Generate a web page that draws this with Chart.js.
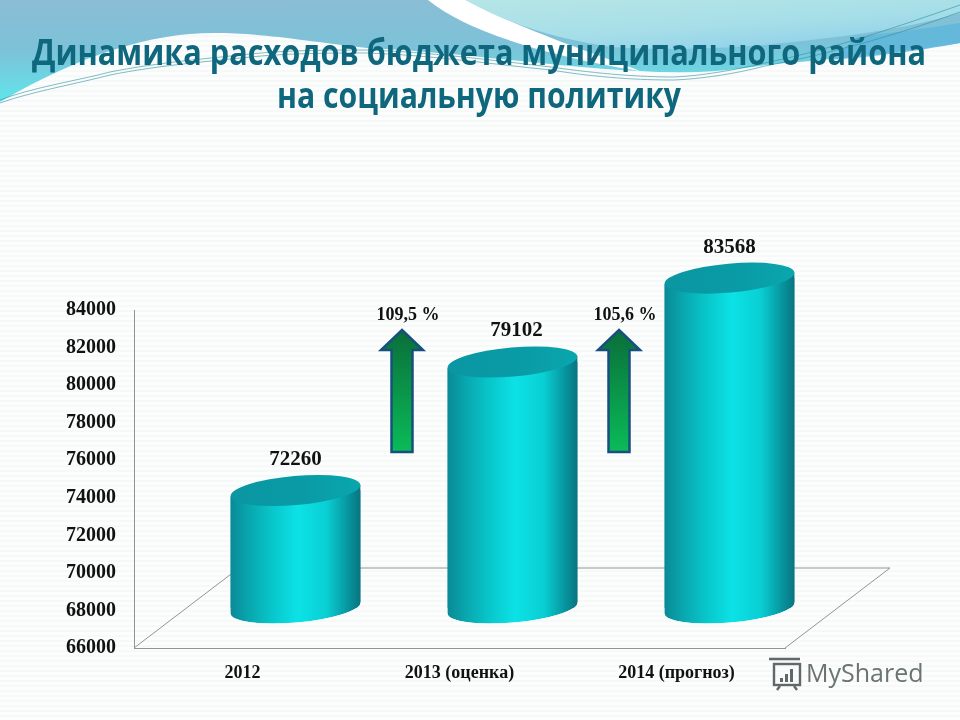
<!DOCTYPE html>
<html lang="ru">
<head>
<meta charset="utf-8">
<title>Динамика расходов бюджета</title>
<script src="https://cdn.jsdelivr.net/npm/chart.js@4/dist/chart.umd.min.js"></script>
<style>
html,body{margin:0;padding:0;width:960px;height:720px;overflow:hidden;background:#fbfcfc}
#stage{position:relative;width:960px;height:720px;
  background:repeating-linear-gradient(0deg,#fcfdfd 0,#fcfdfd 3px,#f7f9f9 3px,#f7f9f9 5px)}
#bg,#c{position:absolute;left:0;top:0}
</style>
</head>
<body>
<div id="stage">
<svg id="bg" width="960" height="720" viewBox="0 0 960 720">
  <defs>
    <linearGradient id="sky" x1="0" y1="0" x2="0.1" y2="1">
      <stop offset="0" stop-color="#8bbdd5"/>
      <stop offset="0.5" stop-color="#7cc2d8"/>
      <stop offset="1" stop-color="#60e6ec"/>
    </linearGradient>
    <linearGradient id="light" x1="0" y1="0" x2="0.7" y2="1">
      <stop offset="0" stop-color="#b6e6e6"/>
      <stop offset="0.6" stop-color="#a6dee8"/>
      <stop offset="1" stop-color="#8ed0ea"/>
    </linearGradient>
  </defs>
  <path fill="url(#sky)" d="M0 0H960V43C880 55 820 60 765 65C720 72 680 74 640 71C560 68 460 52 367 48C300 40 260 33 214 33C150 33 80 55 0 102Z"/>
  <path fill="#ffffff" d="M428 0C465 30 540 55 640 71C600 55 520 30 468 0Z"/>
  <path fill="url(#light)" d="M465 0H960V13C900 30 850 36 765 45C700 50 650 50 612 47C560 40 510 25 465 0Z"/>
  <path fill="#5fb6da" d="M857 37C890 33 930 28 960 23V43C910 52 880 56 830 60Z" opacity="0.85"/>
  <g fill="none" stroke="#2f8f9e" stroke-width="0.8" opacity="0.75">
    <path d="M0 100C30 88 80 80 110 72C160 62 214 58 250 54C290 50 330 50 367 50C430 52 490 60 551 67C600 74 640 77 674 77C700 76 735 70 765 63C830 50 900 26 960 5"/>
    <path d="M0 103C30 92 80 83 110 75C160 65 214 61 250 57C290 53 330 53 367 53C430 55 490 64 551 70C600 78 640 80 674 80C700 79 735 74 765 66C830 54 900 34 960 12"/>
  </g>
</svg>
<canvas id="c" width="960" height="720"></canvas>
</div>
<script>
const categories = ['2012', '2013 (оценка)', '2014 (прогноз)'];
const expenses = [72260, 79102, 83568];
const yTickValues = [66000, 68000, 70000, 72000, 74000, 76000, 78000, 80000, 82000, 84000];
const growthLabels = ['109,5 %', '105,6 %'];
const titleLines = ['Динамика расходов бюджета муниципального района', 'на социальную политику'];

const DX = 53, DY = -40, DEPTH_X = 105, DEPTH_Y = -80;
const TILT = 5 * Math.PI / 180, RY = 14.5;
const SERIF = '"Liberation Serif", serif';
const GRID = '#8f9496';

function bodyGradient(c, left, right) {
  const g = c.createLinearGradient(left, 0, right, 0);
  g.addColorStop(0, '#0a8a96');
  g.addColorStop(0.14, '#09a6ae');
  g.addColorStop(0.32, '#08c6ca');
  g.addColorStop(0.52, '#0ce2e6');
  g.addColorStop(0.74, '#09cfd3');
  g.addColorStop(0.92, '#078f9a');
  g.addColorStop(1, '#0a7480');
  return g;
}

function shape(c, el) {
  const half = el.width / 2, rise = half * Math.tan(TILT);
  c.moveTo(el.x - half, el.y + rise);
  c.lineTo(el.x + half, el.y - rise);
  c.lineTo(el.x + half, el.base - rise);
  c.lineTo(el.x - half, el.base + rise);
  c.closePath();
  c.moveTo(el.x + half, el.base);
  c.ellipse(el.x, el.base, half, RY, -TILT, 0, Math.PI * 2);
}

const scene = {
  id: 'scene',
  beforeDatasetsDraw(chart) {
    const c = chart.ctx, a = chart.chartArea;
    c.save();
    c.strokeStyle = GRID;
    c.lineWidth = 1;
    c.beginPath();
    c.moveTo(a.left, a.bottom);
    c.lineTo(a.left + DEPTH_X, a.bottom + DEPTH_Y);
    c.lineTo(a.right + DEPTH_X, a.bottom + DEPTH_Y);
    c.lineTo(a.right, a.bottom);
    c.stroke();
    c.restore();

    const bars = chart.getDatasetMeta(0).data;
    c.save();
    c.translate(DX, DY);
    c.beginPath();
    bars.forEach(el => shape(c, el));
    c.clip();
    bars.forEach(el => {
      c.beginPath();
      shape(c, el);
      c.fillStyle = bodyGradient(c, el.x - el.width / 2, el.x + el.width / 2);
      c.fill();
    });
  },
  afterDatasetsDraw(chart) {
    const c = chart.ctx;
    c.restore();
    const bars = chart.getDatasetMeta(0).data;
    const nudge = [0, 4, 0];
    bars.forEach((el, i) => {
      const half = el.width / 2, cx = el.x + DX, cy = el.y + DY;
      c.save();
      c.beginPath();
      c.ellipse(cx, cy, half, RY, -TILT, 0, Math.PI * 2);
      const g = c.createLinearGradient(cx - half, 0, cx + half, 0);
      g.addColorStop(0, '#0a96a2');
      g.addColorStop(0.6, '#099ca6');
      g.addColorStop(1, '#0aa6ae');
      c.fillStyle = g;
      c.fill();
      c.fillStyle = '#111';
      c.font = 'bold 21px ' + SERIF;
      c.textAlign = 'center';
      c.textBaseline = 'middle';
      c.fillText(String(expenses[i]), cx + nudge[i], cy - 31);
      c.restore();
    });

    const y = chart.scales.y, x = chart.scales.x;
    growthLabels.forEach((label, i) => {
      const mid = (x.getPixelForValue(i) + x.getPixelForValue(i + 1)) / 2 + 51;
      const top = y.getPixelForValue(82935), bottom = y.getPixelForValue(76440);
      const neck = top + 20, hw = 21, sw = 10.5;
      c.save();
      const g = c.createLinearGradient(0, top, 0, bottom);
      g.addColorStop(0, '#0a6e3a');
      g.addColorStop(1, '#0abb58');
      c.beginPath();
      c.moveTo(mid, top);
      c.lineTo(mid + hw, neck);
      c.lineTo(mid + sw, neck);
      c.lineTo(mid + sw, bottom);
      c.lineTo(mid - sw, bottom);
      c.lineTo(mid - sw, neck);
      c.lineTo(mid - hw, neck);
      c.closePath();
      c.fillStyle = g;
      c.fill();
      c.strokeStyle = '#17507e';
      c.lineWidth = 2.5;
      c.lineJoin = 'miter';
      c.stroke();
      c.fillStyle = '#111';
      c.font = 'bold 18px ' + SERIF;
      c.textAlign = 'center';
      c.textBaseline = 'middle';
      c.fillText(label, mid + 6, top - 15);
      c.restore();
    });

    // title
    c.save();
    c.fillStyle = '#0e677d';
    c.font = 'bold 36px "Open Sans", sans-serif';
    c.textAlign = 'center';
    c.textBaseline = 'middle';
    c.fillText(titleLines[0], 479, 55, 894);
    c.fillText(titleLines[1], 479, 98, 404);
    c.restore();

    // watermark
    c.save();
    c.strokeStyle = '#5f6a68';
    c.fillStyle = '#5f6a68';
    c.lineWidth = 2.4;
    c.strokeRect(774, 664, 26, 21);
    c.beginPath();
    c.moveTo(769, 659); c.lineTo(800, 659);
    c.moveTo(780, 686); c.lineTo(777, 690);
    c.moveTo(794, 686); c.lineTo(797, 690);
    c.stroke();
    c.fillRect(780, 678, 3, 4);
    c.fillRect(785, 674, 3, 8);
    c.fillRect(790, 669, 3, 13);
    c.fillStyle = '#6a7472';
    c.font = '25px "Open Sans", sans-serif';
    c.textAlign = 'left';
    c.textBaseline = 'middle';
    c.fillText('MyShared', 806, 675);
    c.restore();
  }
};

new Chart(document.getElementById('c'), {
  type: 'bar',
  plugins: [scene],
  data: {
    labels: categories,
    datasets: [{
      data: expenses,
      base: 66000,
      clip: false,
      borderWidth: 0,
      barPercentage: 0.6,
      categoryPercentage: 1,
      backgroundColor(ctx) {
        const a = ctx.chart.chartArea;
        if (!a) return '#0cc';
        const band = (a.right - a.left) / categories.length;
        const cx = a.left + band * (ctx.dataIndex + 0.5);
        return bodyGradient(ctx.chart.ctx, cx - band * 0.3, cx + band * 0.3);
      }
    }]
  },
  options: {
    responsive: false,
    animation: false,
    layout: { padding: { left: 0, right: 175, top: 310, bottom: 0 } },
    plugins: {
      legend: { display: false },
      tooltip: { enabled: false },
      title: { display: false }
    },
    scales: {
      x: {
        grid: { display: false },
        border: { display: true, color: GRID, width: 1 },
        ticks: { color: '#111', font: { family: SERIF, size: 18, weight: 'bold' }, padding: 7 },
        afterFit(s) { s.height = 72; }
      },
      y: {
        min: 66000,
        max: 84000,
        afterBuildTicks(s) { s.ticks = yTickValues.map(v => ({ value: v })); },
        grid: { display: false, drawTicks: false },
        border: { display: true, color: GRID, width: 1 },
        ticks: { color: '#111', font: { family: SERIF, size: 20, weight: 'bold' }, padding: 18, callback: v => String(v) },
        afterFit(s) { s.width = 134; }
      }
    }
  }
});
</script>
</body>
</html>
